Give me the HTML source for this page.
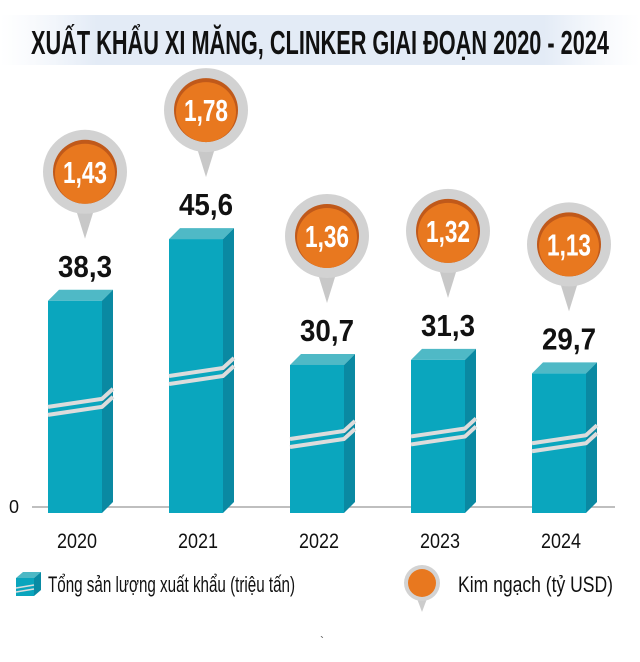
<!DOCTYPE html>
<html><head><meta charset="utf-8">
<style>
html,body{margin:0;padding:0;background:#fff;}
svg{display:block;}
text{font-family:"Liberation Sans Narrow","Liberation Sans",sans-serif;}
</style></head>
<body>
<svg id="chart" width="640" height="662" viewBox="0 0 640 662" xmlns="http://www.w3.org/2000/svg">
<defs>
<linearGradient id="band" x1="0" x2="1" y1="0" y2="0">
<stop offset="0" stop-color="#eef3fa" stop-opacity="0"/>
<stop offset="0.15" stop-color="#e3ebf6"/>
<stop offset="0.85" stop-color="#e3ebf6"/>
<stop offset="1" stop-color="#eef3fa" stop-opacity="0"/>
</linearGradient>
</defs>
<rect x="0" y="15" width="640" height="50" fill="url(#band)"/>
<text x="320" y="54" text-anchor="middle" font-size="33" font-weight="bold" fill="#111" textLength="578" lengthAdjust="spacingAndGlyphs">XUẤT KHẨU XI MĂNG, CLINKER GIAI ĐOẠN 2020 - 2024</text>
<line x1="32" y1="507" x2="615" y2="507" stroke="#aaa" stroke-width="1.5"/>
<text x="14" y="513" text-anchor="middle" font-size="18" fill="#111">0</text>
<g id="bars"></g>
<g>
<g>
<polygon points="16,578 23,572 41,572 34,578" fill="#4db8c5"/>
<polygon points="34,578 41,572 41,590 34,596" fill="#0a8aa3"/>
<rect x="16" y="578" width="18" height="18" fill="#0aa5bd"/>
<line x1="16" y1="588" x2="34" y2="585" stroke="#ddd" stroke-width="1.5"/>
<line x1="16" y1="592" x2="34" y2="589" stroke="#ddd" stroke-width="1.5"/>
</g>
<text x="48" y="592" font-size="22" fill="#111" textLength="247" lengthAdjust="spacingAndGlyphs">Tổng sản lượng xuất khẩu (triệu tấn)</text>
<g>
<polygon points="416,596 428,596 422,612" fill="#ccc"/>
<circle cx="422" cy="583" r="18" fill="#d3d3d3"/>
<circle cx="422" cy="583" r="14" fill="#e8781f"/>
</g>
<text x="458" y="592" font-size="22" fill="#111" textLength="155" lengthAdjust="spacingAndGlyphs">Kim ngạch (tỷ USD)</text>
</g>
<text x="320" y="645" font-size="12" fill="#444">`</text>
</svg>
<script>
const years = ["2020","2021","2022","2023","2024"];
const volumes = [38.3, 45.6, 30.7, 31.3, 29.7];
const volumeLabels = ["38,3","45,6","30,7","31,3","29,7"];
const values = [1.43, 1.78, 1.36, 1.32, 1.13];
const valueLabels = ["1,43","1,78","1,36","1,32","1,13"];

const NS = "http://www.w3.org/2000/svg";
const g = document.getElementById("bars");
const base = 513;
function xCenter(i){ return 75 + 121 * i; }
function yScale(v){ return base - (8.45 * v - 111.4); }
function mk(tag, attrs, parent){
  const e = document.createElementNS(NS, tag);
  for (const k in attrs) e.setAttribute(k, attrs[k]);
  parent.appendChild(e);
  return e;
}
years.forEach((yr, i) => {
  const cx = xCenter(i);
  const x0 = cx - 27, x1 = cx + 27, d = 11;
  const yt = yScale(volumes[i]);
  const grp = mk("g", {}, g);
  
  
  mk("polygon", {points: `${x0},${yt} ${x0+d},${yt-d} ${x1+d},${yt-d} ${x1},${yt}`, fill:"#4fb9c6"}, grp);
  mk("polygon", {points: `${x1},${yt} ${x1+d},${yt-d} ${x1+d},${base-d} ${x1},${base}`, fill:"#0a89a2"}, grp);
  mk("rect", {x:x0, y:yt, width:54, height:base-yt, fill:"#0aa6be"}, grp);
  const sy = base - (base - yt) * 0.5;
  [0, 8].forEach(off => {
    mk("polyline", {points: `${x0},${sy+off} ${x1},${sy+off-8} ${x1+d},${sy+off-18}`, fill:"none", stroke:"#dcdcdc", "stroke-width":4}, grp);
  });
  const vl = mk("text", {x: cx + 10, y: yt - 24, "text-anchor":"middle", "font-size":31, "font-weight":"bold", fill:"#111", textLength:54, lengthAdjust:"spacingAndGlyphs"}, g);
  vl.textContent = volumeLabels[i];
  
  
  const by = yt - 24 - 105, bx = cx + 10;
  const bub = mk("g", {}, g);
  
  
  mk("polygon", {points: `${bx-9},${by+38} ${bx+9},${by+38} ${bx},${by+67}`, fill:"#c8c8c8"}, bub);
  mk("circle", {cx:bx, cy:by, r:42, fill:"#d2d2d2"}, bub);
  mk("circle", {cx:bx, cy:by, r:32, fill:"#c0591a"}, bub);
  mk("circle", {cx:bx, cy:by+2, r:30, fill:"#e8781f"}, bub);
  const t = mk("text", {x:bx, y:by+11, "text-anchor":"middle", "font-size":31, "font-weight":"bold", fill:"#fff", textLength:44, lengthAdjust:"spacingAndGlyphs"}, bub);
  t.textContent = valueLabels[i];
  
  
  const yl = mk("text", {x: cx + 2, y: 548, "text-anchor":"middle", "font-size":21, fill:"#111", textLength:40, lengthAdjust:"spacingAndGlyphs"}, g);
  yl.textContent = yr;
  
  
});
</script>
</body></html>
